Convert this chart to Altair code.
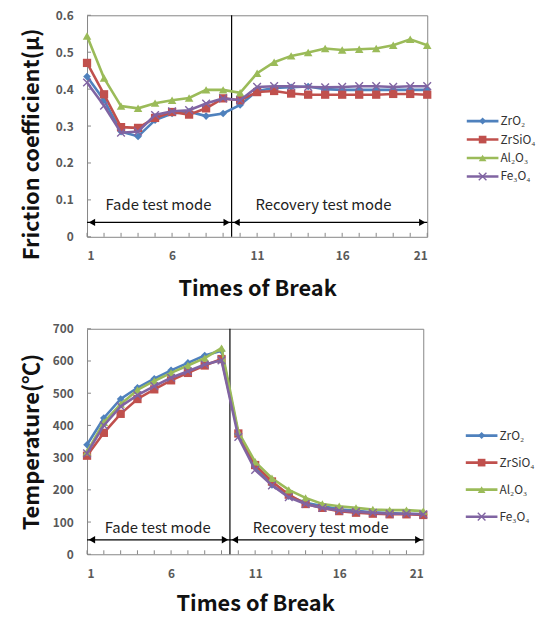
import altair as alt
import pandas as pd

series = ["ZrO₂", "ZrSiO₄", "Al₂O₃", "Fe₃O₄"]
colors = ["#4F81BD", "#C0504D", "#9BBB59", "#8064A2"]
shapes = ["diamond", "square", "triangle-up", "M-1,-1L1,1M1,-1L-1,1"]
breaks = list(range(1, 22))

friction_zro2 = [0.434, 0.370, 0.285, 0.272, 0.316, 0.334, 0.339, 0.327, 0.334, 0.357, 0.395,
                 0.403, 0.405, 0.407, 0.400, 0.398, 0.398, 0.398, 0.398, 0.398, 0.398]
friction_zrsio4 = [0.471, 0.386, 0.297, 0.295, 0.322, 0.338, 0.331, 0.348, 0.375, 0.370, 0.392,
                   0.395, 0.388, 0.385, 0.385, 0.385, 0.385, 0.385, 0.387, 0.387, 0.385]
friction_al2o3 = [0.544, 0.430, 0.354, 0.348, 0.362, 0.370, 0.376, 0.398, 0.398, 0.390, 0.443,
                  0.473, 0.490, 0.499, 0.510, 0.506, 0.508, 0.510, 0.519, 0.535, 0.519]
friction_fe3o4 = [0.418, 0.355, 0.282, 0.285, 0.330, 0.340, 0.343, 0.361, 0.375, 0.370, 0.406,
                  0.408, 0.408, 0.406, 0.405, 0.406, 0.408, 0.408, 0.406, 0.408, 0.408]

temp_zro2 = [340, 423, 482, 517, 545, 571, 594, 617, 632, 372, 270,
             215, 180, 160, 150, 140, 135, 130, 128, 126, 124]
temp_zrsio4 = [306, 377, 436, 482, 512, 540, 563, 586, 606, 375, 277,
               226, 185, 156, 144, 134, 129, 126, 124, 124, 122]
temp_al2o3 = [318, 410, 466, 510, 538, 563, 586, 609, 640, 380, 287,
              236, 200, 175, 156, 149, 144, 139, 137, 137, 134]
temp_fe3o4 = [313, 400, 459, 494, 522, 548, 568, 589, 602, 364, 262,
              214, 177, 156, 144, 136, 132, 129, 126, 126, 124]

x_tick_values = list(range(1, 22))
x_label_values = [1, 6, 11, 16, 21]
friction_ticks = [0, 0.1, 0.2, 0.3, 0.4, 0.5, 0.6]
temp_ticks = [0, 100, 200, 300, 400, 500, 600, 700]

divider_x = [9.5]
mode_labels = ["Fade test mode", "Recovery test mode"]
mode_label_x = [5.2, 14.9]
arrow_start = [1, 9.5]
arrow_end = [9.5, 21]

FONT = "Noto Sans CJK KR"
FRAME = "#868686"
LABEL_COLOR = "#595959"


def long_df(cols):
    rows = []
    for s, vals in zip(series, cols):
        for b, v in zip(breaks, vals):
            rows.append({"series": s, "brk": b, "val": v})
    return pd.DataFrame(rows)


def panel(cols, y_title, y_domain, y_ticks, y_format, width, height,
          arrow_y, label_y, title_x, title_y, x_title_pad):
    df = long_df(cols)
    xs = alt.Scale(domain=[1, 21], nice=False, zero=False)
    ys = alt.Scale(domain=y_domain, nice=False, zero=False)
    xaxis = alt.Axis(values=x_label_values, title="Times of Break", grid=False, ticks=False,
                     domain=False, format="d", labelOverlap=False,
                     labelFont=FONT, labelFontSize=12, labelFontWeight="bold",
                     labelColor=LABEL_COLOR, labelPadding=14,
                     titleFont=FONT, titleFontSize=22, titleFontWeight="bold",
                     titleColor="#111111", titlePadding=x_title_pad)
    yaxis = alt.Axis(values=y_ticks, title=y_title, grid=False, ticks=False, domain=False,
                     format=y_format, labelOverlap=False,
                     labelFont=FONT, labelFontSize=12, labelFontWeight="bold",
                     labelColor=LABEL_COLOR, labelPadding=14,
                     titleFont=FONT, titleFontSize=22, titleFontWeight="bold",
                     titleColor="#111111", titleX=title_x, titleY=title_y)

    def X(f):
        return alt.X(f, scale=xs, axis=xaxis)

    def Y(f):
        return alt.Y(f, scale=ys, axis=yaxis)

    layers = []
    xt = alt.Chart(pd.DataFrame({"t": x_tick_values})).mark_rule(color=FRAME).encode(
        x=X("t:Q"), y=alt.value(height), y2=alt.value(height - 4))
    yt = alt.Chart(pd.DataFrame({"t": y_ticks})).mark_rule(color=FRAME).encode(
        y=Y("t:Q"), x=alt.value(0), x2=alt.value(4))
    layers += [xt, yt]

    div = alt.Chart(pd.DataFrame({"x": divider_x})).mark_rule(color="black", strokeWidth=1.2).encode(
        x=X("x:Q"))
    layers.append(div)

    for s, c, sh in zip(series, colors, shapes):
        d = df[df["series"] == s]
        line = alt.Chart(d).mark_line(color=c, strokeWidth=2.6).encode(x=X("brk:Q"), y=Y("val:Q"))
        if sh.startswith("M"):
            pts = alt.Chart(d).mark_point(shape=sh, filled=False, color=c, size=60,
                                          strokeWidth=1.4, opacity=1).encode(x=X("brk:Q"), y=Y("val:Q"))
        else:
            size = {"diamond": 60, "square": 70, "triangle-up": 75}[sh]
            pts = alt.Chart(d).mark_point(shape=sh, filled=True, color=c, size=size,
                                          opacity=1).encode(x=X("brk:Q"), y=Y("val:Q"))
        layers += [line, pts]

    arrows = pd.DataFrame({"x0": arrow_start, "x1": arrow_end, "y": [arrow_y] * 2})
    ar = alt.Chart(arrows).mark_rule(color="black", strokeWidth=1.3).encode(
        x=X("x0:Q"), x2="x1:Q", y=Y("y:Q"))
    hl = alt.Chart(arrows).mark_point(shape="triangle-left", filled=True, color="black",
                                      size=55, opacity=1, xOffset=5).encode(x=X("x0:Q"), y=Y("y:Q"))
    hr = alt.Chart(arrows).mark_point(shape="triangle-right", filled=True, color="black",
                                      size=55, opacity=1, xOffset=-5).encode(x=X("x1:Q"), y=Y("y:Q"))
    labels = pd.DataFrame({"x": mode_label_x, "y": [label_y] * 2, "label": mode_labels})
    tx = alt.Chart(labels).mark_text(font=FONT, fontSize=15, color="#222222", baseline="middle").encode(
        x=X("x:Q"), y=Y("y:Q"), text="label:N")
    layers += [ar, hl, hr, tx]

    return alt.layer(*layers).properties(
        width=width, height=height, view=alt.ViewBackground(stroke=FRAME, strokeWidth=1))


def legend(y_range, height):
    ys = alt.Scale(type="point", domain=series, range=y_range, padding=0)
    layers = []
    for s, c, sh in zip(series, colors, shapes):
        d = pd.DataFrame({"series": [s]})
        rl = alt.Chart(d).mark_rule(color=c, strokeWidth=2.6).encode(
            y=alt.Y("series:N", scale=ys, axis=None), x=alt.value(0), x2=alt.value(32))
        if sh.startswith("M"):
            pt = alt.Chart(d).mark_point(shape=sh, filled=False, color=c, size=60,
                                         strokeWidth=1.4, opacity=1).encode(
                y=alt.Y("series:N", scale=ys, axis=None), x=alt.value(16))
        else:
            size = {"diamond": 50, "square": 60, "triangle-up": 60}[sh]
            pt = alt.Chart(d).mark_point(shape=sh, filled=True, color=c, size=size, opacity=1).encode(
                y=alt.Y("series:N", scale=ys, axis=None), x=alt.value(16))
        tx = alt.Chart(d).mark_text(font=FONT, fontSize=12, color="#333333", align="left",
                                    baseline="middle").encode(
            y=alt.Y("series:N", scale=ys, axis=None), x=alt.value(34), text="series:N")
        layers += [rl, pt, tx]
    return alt.layer(*layers).properties(width=70, height=height)


top = panel([friction_zro2, friction_zrsio4, friction_al2o3, friction_fe3o4],
            "Friction coefficient(μ)", [0, 0.6], friction_ticks, "~g", 344, 224,
            0.039, 0.087, -44, 130, 17)
bottom = panel([temp_zro2, temp_zrsio4, temp_al2o3, temp_fe3o4],
               "Temperature(℃)", [0, 700], temp_ticks, "d", 340, 228,
               45, 80, -44, 114, 15)

row1 = alt.hconcat(top, legend([107, 163], 224), spacing=30)
row2 = alt.hconcat(bottom, legend([108, 190], 228), spacing=33)

chart = alt.vconcat(row1, row2, spacing=22).properties(
    padding={"left": 20, "top": 5, "right": 0, "bottom": 0}
).configure_view(stroke="transparent")

chart.save("out.html", embed_options={"renderer": "svg", "actions": False})
